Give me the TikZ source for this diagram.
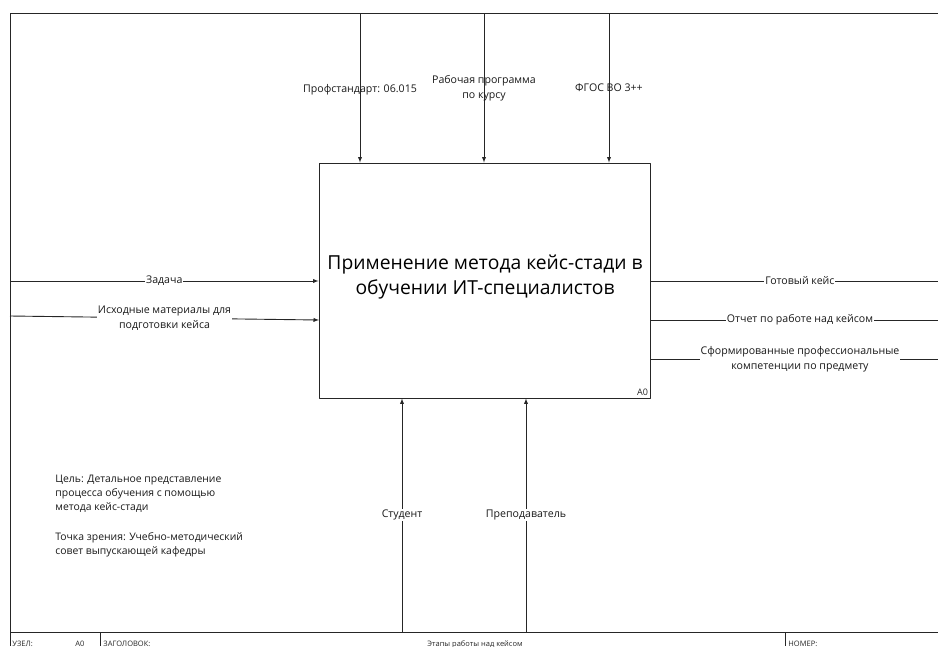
\documentclass[tikz,border=0pt]{standalone}
\usepackage{fontspec}
\setmainfont{Open Sans}
\begin{document}
\begin{tikzpicture}[
	x=1pt,
	y=-1pt,
	line join=round,
	>=latex,
	every path/.style={line width=0.9pt, black!85},
	lbl/.style={fill=white, inner sep=1pt, text=black!90, font=\fontsize{10.6}{15}\selectfont, align=center},
	toplbl/.style={lbl, fill=none},
	note/.style={anchor=north west, inner sep=0pt, text=black!90, font=\fontsize{10.4}{14}\selectfont, align=left},
	foot/.style={anchor=base west, inner sep=0pt, text=black!85, font=\fontsize{7.5}{8}\selectfont},
	]
\useasboundingbox (0,0) rectangle (938,646);
% frame
\draw (938,13) -- (10,13) -- (10,646);
\draw (10,632) -- (938,632);
\draw (100,632) -- (100,646);
\draw (785,632) -- (785,646);
% activity box
\node[draw, minimum width=331, minimum height=235, inner sep=0pt] (act) at (484.5,280.5) {};
\node[text=black, font=\fontsize{19.3}{25}\selectfont, align=center] (title) at (485,277) {Применение метода кейс-стади в\\обучении ИТ-специалистов};
\node[anchor=south east, inner sep=2pt, text=black!85, font=\fontsize{9}{10}\selectfont] (num) at (act.south east) {A0};
% controls
\coordinate (c1) at (360,13);
\coordinate (c2) at (484,13);
\coordinate (c3) at (609,13);
\draw[->] (c1) -- (c1 |- act.north) node[toplbl, pos=0.51] {Профстандарт: 06.015};
\draw[->] (c2) -- (c2 |- act.north) node[toplbl, pos=0.5] {Рабочая программа\\по курсу};
\draw[->] (c3) -- (c3 |- act.north) node[toplbl, pos=0.5] {ФГОС ВО 3++};
% inputs
\coordinate (i1) at (10,281);
\coordinate (i2) at (10,316);
\coordinate (i2e) at (319,320);
\draw[->] (i1) -- (i1 -| act.west) node[lbl, pos=0.5] {Задача};
\draw[->] (i2) -- (i2e) node[lbl, pos=0.5] {Исходные материалы для\\подготовки кейса};
% outputs
\coordinate (o1) at (938,281);
\coordinate (o2) at (938,320);
\coordinate (o3) at (938,359);
\draw (act.east |- o1) -- (o1) node[lbl, pos=0.52] {Готовый кейс};
\draw (act.east |- o2) -- (o2) node[lbl, pos=0.52] {Отчет по работе над кейсом};
\draw (act.east |- o3) -- (o3) node[lbl, pos=0.52] {Сформированные профессиональные\\компетенции по предмету};
% mechanisms
\coordinate (m1) at (402,632);
\coordinate (m2) at (526,632);
\draw[->] (m1) -- (m1 |- act.south) node[lbl, pos=0.5] {Студент};
\draw[->] (m2) -- (m2 |- act.south) node[lbl, pos=0.5] {Преподаватель};
% notes
\node[note] (goal) at (55,475) {Цель: Детальное представление\\процесса обучения с помощью\\метода кейс-стади};
\node[note] (view) at (55,532) {Точка зрения: Учебно-методический\\совет выпускающей кафедры};
% footer
\node[foot] (node) at (12,646) {УЗЕЛ:};
\node[foot] (nodenum) at (75,646) {A0};
\node[foot] (head) at (103,646) {ЗАГОЛОВОК:};
\node[foot, anchor=base] (headtext) at (475,646) {Этапы работы над кейсом};
\node[foot] (number) at (788,646) {НОМЕР:};
\end{tikzpicture}
\end{document}
